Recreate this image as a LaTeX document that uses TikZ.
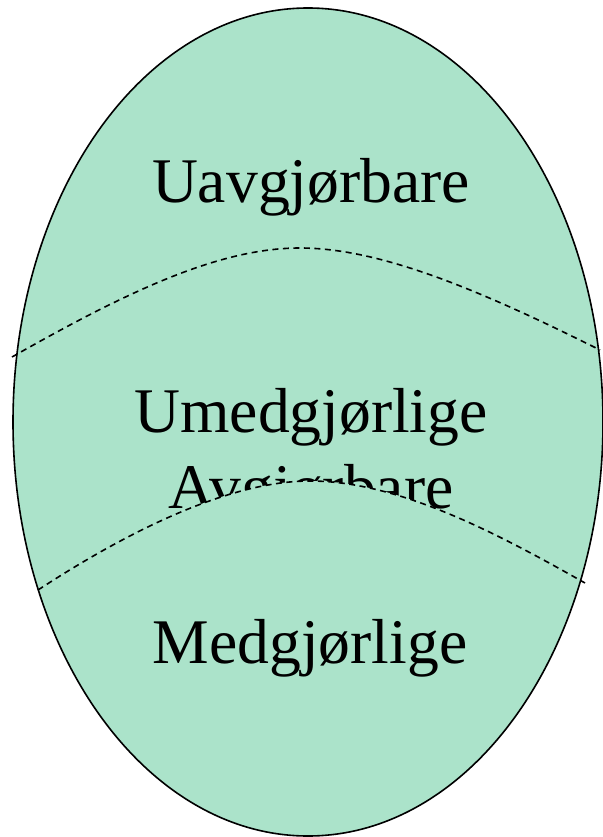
\documentclass[tikz,border=0pt]{standalone}
\usepackage{fontspec}
\setmainfont{Liberation Serif}
\definecolor{eggfill}{RGB}{171,227,202}
\begin{document}
\begin{tikzpicture}[x=1pt,y=-1pt,
  lbl/.style={anchor=base,inner sep=0pt,font=\fontsize{63.6}{70}\selectfont},
  divider/.style={line width=1.6pt,dash pattern=on 6pt off 4.5pt}]
\useasboundingbox (0,0) rectangle (602,837);
\fill[eggfill] (308,422) ellipse [x radius=295,y radius=414];
\node[lbl] (t1) at (311,202) {Uavgjørbare};
\node[lbl] (t2) at (311,432) {Umedgjørlige};
\node[lbl] (t3) at (311,508) {Avgjørbare};
\begin{scope}
  \clip (308,422) ellipse [x radius=295,y radius=414];
  \fill[eggfill] (38,590) .. controls (130,530) and (230,481) .. (310,481)
     .. controls (400,481) and (500,535) .. (585,583) -- (602,600) -- (602,837) -- (0,837) -- (0,600) -- cycle;
\end{scope}
\node[lbl] (t4) at (310,663) {Medgjørlige};
\draw[line width=1.6pt] (308,422) ellipse [x radius=295,y radius=414];
\draw[divider] (12,357) .. controls (130,290) and (220,248) .. (300,248)
     .. controls (380,248) and (480,290) .. (600,350);
\draw[divider] (38,590) .. controls (130,530) and (230,481) .. (310,481)
     .. controls (400,481) and (500,535) .. (585,583);
\end{tikzpicture}
\end{document}
